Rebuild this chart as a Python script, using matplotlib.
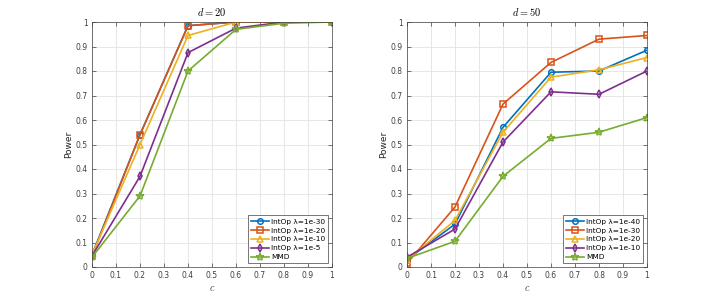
import matplotlib
matplotlib.use("Agg")
import matplotlib.pyplot as plt

c = [0, 0.2, 0.4, 0.6, 0.8, 1.0]

# d = 20
labels20 = ["IntOp λ=1e-30", "IntOp λ=1e-20", "IntOp λ=1e-10", "IntOp λ=1e-5", "MMD"]
d20_a = [0.05, 0.54, 0.985, 1.0, 1.0, 1.0]
d20_b = [0.045, 0.54, 0.985, 1.0, 1.0, 1.0]
d20_c = [0.05, 0.50, 0.945, 1.0, 1.0, 1.0]
d20_d = [0.045, 0.37, 0.875, 0.975, 1.0, 1.0]
d20_mmd = [0.04, 0.29, 0.80, 0.97, 0.995, 1.0]

# d = 50
labels50 = ["IntOp λ=1e-40", "IntOp λ=1e-30", "IntOp λ=1e-20", "IntOp λ=1e-10", "MMD"]
d50_a = [0.03, 0.175, 0.57, 0.795, 0.80, 0.885]
d50_b = [0.015, 0.245, 0.665, 0.835, 0.93, 0.945]
d50_c = [0.03, 0.19, 0.55, 0.775, 0.805, 0.855]
d50_d = [0.04, 0.155, 0.51, 0.715, 0.705, 0.80]
d50_mmd = [0.035, 0.105, 0.37, 0.525, 0.55, 0.61]

colors = ["#0072BD", "#D95319", "#EDB120", "#7E2F8E", "#77AC30"]
markers = ["o", "s", "^", "d", "*"]
msizes = [4, 3.8, 4.5, 4, 6]

plt.rcParams['font.family'] = ['DejaVu Sans']
plt.rcParams['mathtext.fontset'] = 'cm'
fig = plt.figure(figsize=(7.14, 3.01), dpi=100)

W, H = 714, 301
def make_ax(x0):
    return fig.add_axes([x0 / W, (H - 267) / H, 240 / W, 245 / H])

panels = [
    (92, "$d = 20$", labels20, [d20_a, d20_b, d20_c, d20_d, d20_mmd]),
    (407, "$d = 50$", labels50, [d50_a, d50_b, d50_c, d50_d, d50_mmd]),
]

for x0, title, labels, series in panels:
    ax = make_ax(x0)
    for ys, lab, col, mk, ms in zip(series, labels, colors, markers, msizes):
        ax.plot(c, ys, color=col, marker=mk, markersize=ms, markerfacecolor='none',
                markeredgewidth=1.1, linewidth=1.2, label=lab)
    ax.set_xlim(0, 1)
    ax.set_ylim(0, 1)
    ax.set_xticks([i / 10 for i in range(11)])
    ax.set_yticks([i / 10 for i in range(11)])
    ax.set_xticklabels(["0", "0.1", "0.2", "0.3", "0.4", "0.5", "0.6", "0.7", "0.8", "0.9", "1"])
    ax.set_yticklabels(["0", "0.1", "0.2", "0.3", "0.4", "0.5", "0.6", "0.7", "0.8", "0.9", "1"])
    ax.grid(True, color="#e3e3e3", linewidth=0.6)
    ax.set_axisbelow(True)
    ax.tick_params(direction='in', length=3, width=0.5, labelsize=5.5, colors="#404040",
                   top=True, right=True, pad=3)
    for s in ax.spines.values():
        s.set_color("#404040")
        s.set_linewidth(0.5)
    ax.set_title(title, fontsize=7.5, pad=4)
    ax.set_xlabel("$c$", fontsize=7.5, labelpad=2, color="#404040")
    ax.set_ylabel("Power", fontsize=6.5, labelpad=2, color="#262626")
    leg = ax.legend(loc='lower right', fontsize=5.3, fancybox=False, framealpha=1,
                    edgecolor="#404040", borderpad=0.4, labelspacing=0.38,
                    handlelength=2.4, handletextpad=0.3, borderaxespad=0.5)
    leg.get_frame().set_linewidth(0.5)

fig.savefig("out.png", dpi=100)
